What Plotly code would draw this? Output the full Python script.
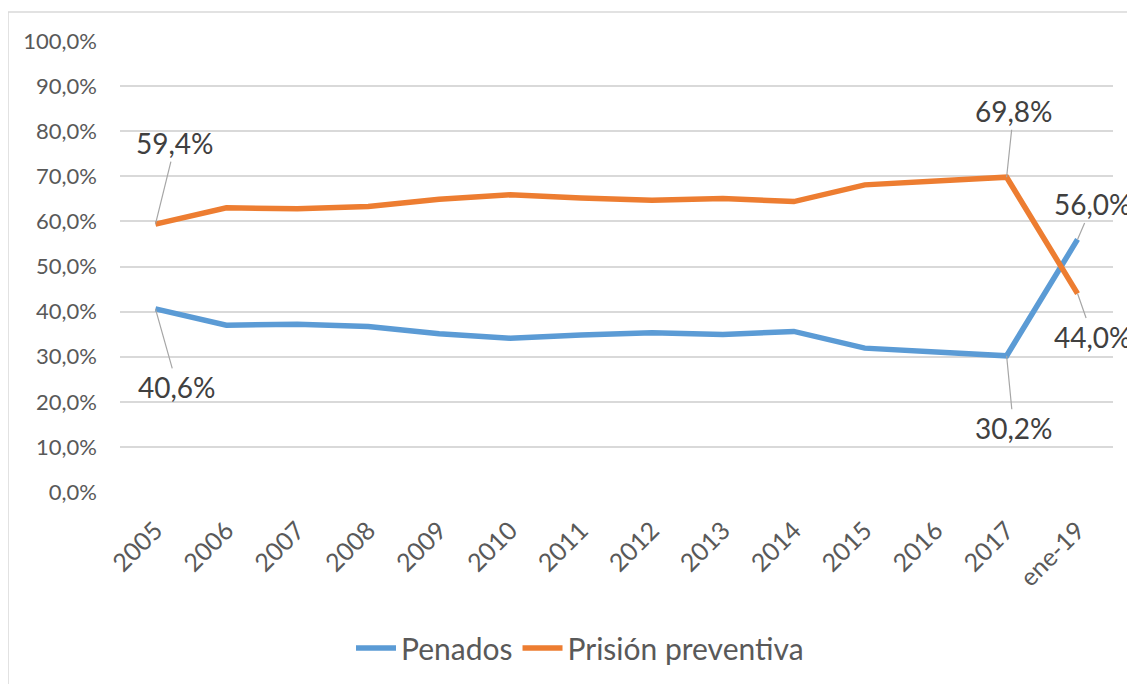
import plotly.graph_objects as go

categories = ["2005", "2006", "2007", "2008", "2009", "2010", "2011", "2012",
              "2013", "2014", "2015", "2016", "2017", "ene-19"]
penados = [40.6, 37.0, 37.2, 36.7, 35.1, 34.1, 34.8, 35.3, 34.9, 35.6, 31.9, 31.0, 30.2, 56.0]
preventiva = [59.4, 63.0, 62.8, 63.3, 64.9, 65.9, 65.2, 64.7, 65.1, 64.4, 68.1, 69.0, 69.8, 44.0]
y_ticks = [0, 10, 20, 30, 40, 50, 60, 70, 80, 90, 100]
y_ticktext = ["0,0%", "10,0%", "20,0%", "30,0%", "40,0%", "50,0%", "60,0%",
              "70,0%", "80,0%", "90,0%", "100,0%"]

BLUE = "#5B9BD5"
ORANGE = "#ED7D31"
FONT = "Lato, Open Sans, sans-serif"

# page body has an 8px margin, so the figure is sized to the visible area
OFF = 8
W, H = 1135 - OFF, 684 - OFF
L, T = 120 - OFF, 41 - OFF
R = W - (1113 - OFF)
B = H - (492 - OFF)
pw, ph = W - L - R, H - T - B

fig = go.Figure()
fig.add_trace(go.Scatter(x=categories, y=penados, mode="lines", name="Penados",
                         line=dict(color=BLUE, width=5.5)))
fig.add_trace(go.Scatter(x=categories, y=preventiva, mode="lines", name="Prisión preventiva",
                         line=dict(color=ORANGE, width=5.5)))

def fmt(v):
    return f"{v:.1f}".replace(".", ",") + "%"

# data labels with leader lines: (series, index, ax, ay)
labels = [
    (preventiva, 0, 20, -81),
    (penados, 0, 22, 78),
    (preventiva, 12, 7, -66),
    (penados, 12, 7, 72),
    (penados, 13, 15, -35),
    (preventiva, 13, 15, 43),
]
for series, i, ax, ay in labels:
    fig.add_annotation(x=i, y=series[i], text=fmt(series[i]),
                       showarrow=True, arrowhead=0, arrowwidth=1.2, arrowcolor="#A6A6A6",
                       ax=ax, ay=ay, font=dict(family=FONT, size=28, color="#404040"),
                       standoff=0, startstandoff=0)

def px_x(p):
    return (p - OFF - L) / pw

def px_y(p):
    return (H - B - (p - OFF)) / ph

# chart border (top and left edges visible)
fig.add_shape(type="line", xref="paper", yref="paper", x0=px_x(8), x1=px_x(1135),
              y0=px_y(12), y1=px_y(12), line=dict(color="#D9D9D9", width=1.5))
fig.add_shape(type="line", xref="paper", yref="paper", x0=px_x(8), x1=px_x(8),
              y0=px_y(12), y1=px_y(684), line=dict(color="#D9D9D9", width=1.5))

fig.update_layout(
    width=W, height=H,
    margin=dict(l=L, r=R, t=T, b=B, autoexpand=False),
    paper_bgcolor="white", plot_bgcolor="white",
    font=dict(family=FONT, color="#595959"),
    showlegend=True,
    legend=dict(orientation="h", x=px_x(580), xanchor="center", y=px_y(648), yanchor="middle",
                font=dict(family=FONT, size=30, color="#595959"), itemwidth=40),
    xaxis=dict(type="category", range=[-0.5, 13.5], tickangle=-45, showgrid=False,
               showline=False, ticks="", automargin=False, ticklabelstandoff=18,
               tickfont=dict(family=FONT, size=25, color="#595959")),
    yaxis=dict(range=[0, 100], tickvals=y_ticks, ticktext=y_ticktext,
               showgrid=True, gridcolor="#D9D9D9", gridwidth=1.5, zeroline=False,
               showline=False, ticks="", automargin=False, ticklabelstandoff=22,
               tickfont=dict(family=FONT, size=22, color="#595959")),
)

fig.write_html("out.html")
